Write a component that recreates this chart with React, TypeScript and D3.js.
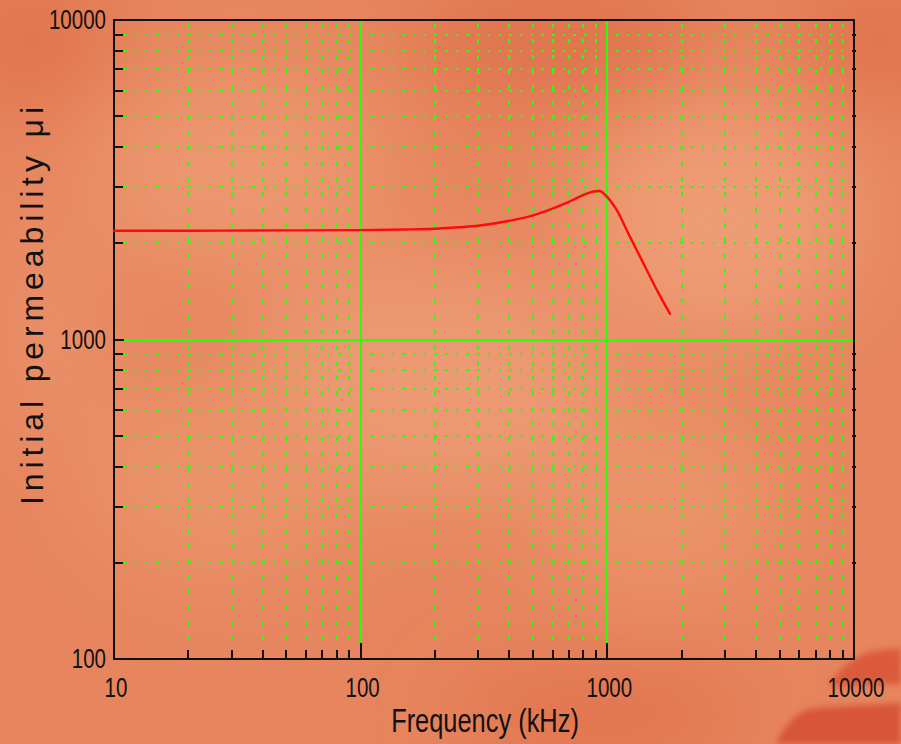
import React from "react";
import * as d3 from "d3";

// Initial permeability vs frequency (log-log)
const freqKHz = [10, 20, 50, 100, 150, 200, 250, 304, 402, 500, 585, 683, 798, 880, 930, 993, 1089, 1233, 1397, 1585, 1795];
const permeability = [2190, 2190, 2195, 2200, 2210, 2222, 2245, 2275, 2354, 2446, 2548, 2675, 2830, 2905, 2915, 2804, 2548, 2103, 1737, 1433, 1203];

const xTickLabels = [10, 100, 1000, 10000];
const yTickLabels = [100, 1000, 10000];

const W = 901;
const H = 744;
const left = 114;
const right = 854;
const top = 20;
const bottom = 659;

const GRID = "#2aff0a";
// horizontal squeeze for the narrow tick-label digits
const NARROW = 0.76;

export default function App() {
  const x = d3.scaleLog().domain([10, 10000]).range([left, right]);
  const y = d3.scaleLog().domain([100, 10000]).range([bottom, top]);
  const rx = (v: number) => Math.round(x(v));
  const ry = (v: number) => Math.round(y(v));

  // minor values per decade (2..9)
  const minorX: number[] = [];
  [10, 100, 1000].forEach((d) => {
    for (let k = 2; k <= 9; k++) minorX.push(d * k);
  });
  const minorY: number[] = [];
  [100, 1000].forEach((d) => {
    for (let k = 2; k <= 9; k++) minorY.push(d * k);
  });

  const line = d3
    .line<number>()
    .x((_, i) => x(freqKHz[i]))
    .y((d) => y(d))
    .curve(d3.curveMonotoneX);

  return (
    <svg
      width={W}
      height={H}
      style={{ position: "absolute", left: 0, top: 0, display: "block" }}
      fontFamily="'Liberation Sans', Arial, sans-serif"
    >
      <defs>
        <filter id="soft" x="-50%" y="-50%" width="200%" height="200%">
          <feGaussianBlur stdDeviation="45" />
        </filter>
        <filter id="softer" x="-20%" y="-20%" width="140%" height="140%">
          <feGaussianBlur stdDeviation="3" />
        </filter>
      </defs>

      {/* background */}
      <rect x={0} y={0} width={W} height={H} fill="#e6855e" />
      <g filter="url(#soft)">
        <ellipse cx={240} cy={170} rx={150} ry={100} fill="#ec9770" />
        <ellipse cx={720} cy={220} rx={140} ry={120} fill="#ee9c76" />
        <ellipse cx={430} cy={380} rx={180} ry={120} fill="#ec9a73" />
        <ellipse cx={220} cy={480} rx={140} ry={100} fill="#ea936b" />
        <ellipse cx={660} cy={500} rx={130} ry={100} fill="#ea936b" />
        <ellipse cx={50} cy={330} rx={60} ry={120} fill="#e98f67" />
        <ellipse cx={560} cy={40} rx={150} ry={50} fill="#de6f48" />
        <ellipse cx={30} cy={40} rx={80} ry={60} fill="#e0714a" />
        <ellipse cx={880} cy={40} rx={80} ry={60} fill="#e0714a" />
        <ellipse cx={600} cy={715} rx={150} ry={40} fill="#e07049" />
      </g>
      <g filter="url(#softer)">
        <path d="M 828 686 Q 848 656 875 651 L 901 648 L 901 684 Z" fill="#db5a3b" />
        <path d="M 776 744 Q 790 712 815 708 L 901 703 L 901 744 Z" fill="#d8553a" />
      </g>

      {/* minor horizontal grid: dotted */}
      {minorY.map((v) => (
        <line
          key={"hy" + v}
          x1={left + 10}
          x2={right - 2}
          y1={ry(v)}
          y2={ry(v)}
          stroke={GRID}
          strokeWidth={2}
          strokeDasharray="2.5 8.2"
          shapeRendering="crispEdges"
        />
      ))}
      {/* minor vertical grid: dashed */}
      {minorX.map((v) => (
        <line
          key={"vx" + v}
          x1={rx(v)}
          x2={rx(v)}
          y1={top + 4}
          y2={bottom - 12}
          stroke={GRID}
          strokeWidth={2}
          strokeDasharray="4 11.3"
          shapeRendering="crispEdges"
        />
      ))}
      {/* major grid */}
      {[100, 1000].map((v) => (
        <line key={"mx" + v} x1={rx(v)} x2={rx(v)} y1={top} y2={bottom - 16} stroke={GRID} strokeWidth={2} shapeRendering="crispEdges" />
      ))}
      <line x1={left + 10} x2={right} y1={ry(1000)} y2={ry(1000)} stroke={GRID} strokeWidth={2} shapeRendering="crispEdges" />

      {/* ticks */}
      {minorY.map((v) => (
        <g key={"ty" + v}>
          <line x1={left} x2={left + 9} y1={ry(v)} y2={ry(v)} stroke="#111" strokeWidth={2} shapeRendering="crispEdges" />
          <line x1={right - 2} x2={right + 2} y1={ry(v)} y2={ry(v)} stroke="#111" strokeWidth={2} shapeRendering="crispEdges" />
        </g>
      ))}
      <line x1={left} x2={left + 10} y1={ry(1000)} y2={ry(1000)} stroke="#111" strokeWidth={2} shapeRendering="crispEdges" />
      {minorX.map((v) => (
        <line key={"tx" + v} x1={rx(v)} x2={rx(v)} y1={bottom} y2={bottom - 9} stroke="#111" strokeWidth={2} shapeRendering="crispEdges" />
      ))}
      {[100, 1000].map((v) => (
        <line key={"tmx" + v} x1={rx(v)} x2={rx(v)} y1={bottom} y2={bottom - 16} stroke="#111" strokeWidth={2} shapeRendering="crispEdges" />
      ))}

      {/* frame */}
      <rect x={left} y={top} width={right - left} height={bottom - top} fill="none" stroke="#111" strokeWidth={2} shapeRendering="crispEdges" />

      {/* curve */}
      <path d={line(permeability) ?? ""} fill="none" stroke="#ff0a0a" strokeWidth={2.4} strokeLinecap="round" />

      {/* tick labels */}
      {yTickLabels.map((v) => (
        <text
          key={"yl" + v}
          transform={`translate(106,${y(v) + 9}) scale(${NARROW},1)`}
          textAnchor="end"
          fontSize={27}
          fill="#111"
        >
          {String(v)}
        </text>
      ))}
      {xTickLabels.map((v) => (
        <text
          key={"xl" + v}
          transform={`translate(${x(v) + 2},697) scale(${NARROW},1)`}
          textAnchor="middle"
          fontSize={27}
          fill="#111"
        >
          {String(v)}
        </text>
      ))}

      {/* axis titles */}
      <text
        transform="translate(485,732) scale(0.77,1)"
        textAnchor="middle"
        fontSize={33}
        fill="#111"
      >
        Frequency (kHz)
      </text>
      <text
        transform="translate(43,306) rotate(-90)"
        textAnchor="middle"
        fontSize={32}
        fill="#111"
        textLength={398}
        lengthAdjust="spacing"
      >
        Initial permeability μi
      </text>
    </svg>
  );
}
